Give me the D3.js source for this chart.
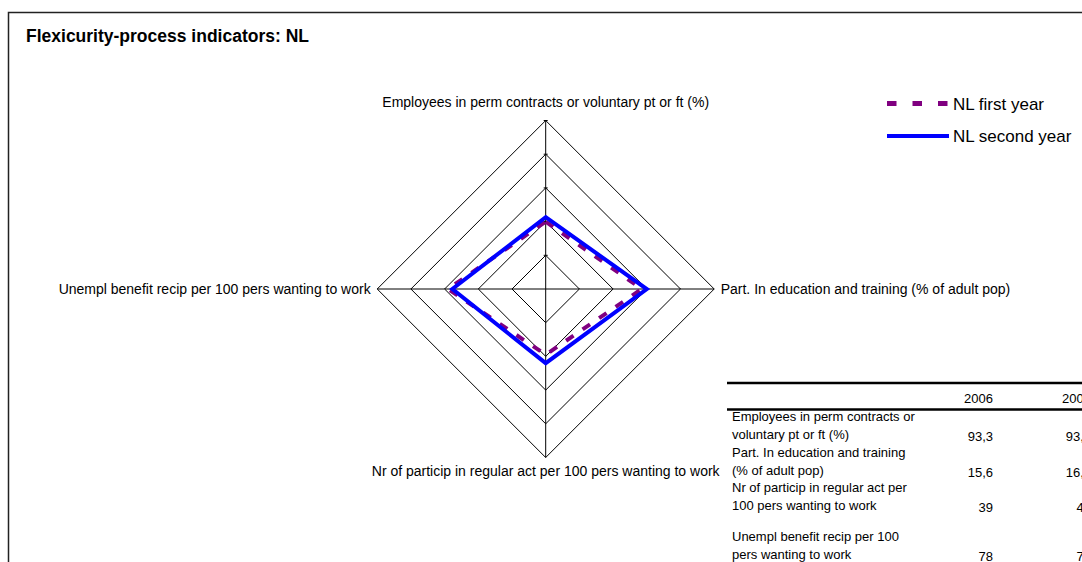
<!DOCTYPE html>
<html>
<head>
<meta charset="utf-8">
<script src="https://cdn.jsdelivr.net/npm/d3@7"></script>
<style>
  body { margin: 0; background: #fff; }
  svg { display: block; font-family: Arial, "Liberation Sans", sans-serif; }
</style>
</head>
<body>
<svg id="graph" width="1082" height="562"></svg>
<script>
// chart data
var axisLabels = [
    "Employees in perm contracts or voluntary pt or ft (%)",
    "Part. In education and training (% of adult pop)",
    "Nr of particip in regular act per 100 pers wanting to work",
    "Unempl benefit recip per 100 pers wanting to work"
];
var seriesNames = ["NL first year", "NL second year"];
var firstYear = [2.0, 2.85, 1.95, 2.9];
var secondYear = [2.13, 3.0, 2.2, 2.77];
var ringTicks = [1, 2, 3, 4, 5];

// table data
var tableYears = ["2006", "2007"];
var rowLabels = [
    ["Employees in perm contracts or", "voluntary pt or ft (%)"],
    ["Part. In education and training", "(% of adult pop)"],
    ["Nr of particip in regular act per", "100 pers wanting to work"],
    ["Unempl benefit recip per 100", "pers wanting to work"]
];
var values2006 = ["93,3", "15,6", "39", "78"];
var values2007 = ["93,5", "16,6", "42", "75"];

var svg = d3.select("#graph");
var width = 1082, height = 562;

// outer chart frame
svg.append("path")
    .attr("d", "M8.5,562 V12.5 H1082")
    .attr("fill", "none")
    .attr("stroke", "#222")
    .attr("stroke-width", 1.5);

svg.append("text")
    .attr("x", 26)
    .attr("y", 42)
    .attr("font-size", 17.5)
    .attr("font-weight", "bold")
    .text("Flexicurity-process indicators: NL");

// radar
var cx = 545.7, cy = 289;
var r = d3.scaleLinear().domain([0, 5]).range([0, 168.5]);
var angle = function(i) { return i * Math.PI / 2; };
var pt = function(v, i) {
    return [cx + r(v) * Math.sin(angle(i)), cy - r(v) * Math.cos(angle(i))];
};

var radar = svg.append("g");

radar.selectAll("path.ring")
    .data(ringTicks)
    .enter()
    .append("path")
    .attr("class", "ring")
    .attr("d", function(t) {
        return d3.line()(axisLabels.map(function(a, i) { return pt(t, i); })) + "Z";
    })
    .attr("fill", "none")
    .attr("stroke", "#000")
    .attr("stroke-width", 1);

radar.selectAll("line.axis")
    .data(axisLabels)
    .enter()
    .append("line")
    .attr("class", "axis")
    .attr("x1", cx).attr("y1", cy)
    .attr("x2", function(d, i) { return pt(5, i)[0]; })
    .attr("y2", function(d, i) { return pt(5, i)[1]; })
    .attr("stroke", "#000")
    .attr("stroke-width", 1);

// small tick marks on the value axis
radar.selectAll("line.tick")
    .data(ringTicks)
    .enter()
    .append("line")
    .attr("class", "tick")
    .attr("x1", cx - 2).attr("x2", cx + 2)
    .attr("y1", function(t) { return cy - r(t); })
    .attr("y2", function(t) { return cy - r(t); })
    .attr("stroke", "#000");

var labelPos = [
    {dx: 0, dy: -182, anchor: "middle"},
    {dx: 175, dy: 5, anchor: "start"},
    {dx: 0, dy: 187, anchor: "middle"},
    {dx: -175, dy: 5, anchor: "end"}
];
radar.selectAll("text.axlab")
    .data(axisLabels)
    .enter()
    .append("text")
    .attr("class", "axlab")
    .attr("x", function(d, i) { return cx + labelPos[i].dx; })
    .attr("y", function(d, i) { return cy + labelPos[i].dy; })
    .attr("text-anchor", function(d, i) { return labelPos[i].anchor; })
    .attr("font-size", 14)
    .text(function(d) { return d; });

var polygon = function(vals) {
    return d3.line()(vals.map(function(v, i) { return pt(v, i); })) + "Z";
};

radar.append("path")
    .attr("d", polygon(firstYear))
    .attr("fill", "none")
    .attr("stroke", "#800080")
    .attr("stroke-width", 4)
    .attr("stroke-dasharray", "9,11");

radar.append("path")
    .attr("d", polygon(secondYear))
    .attr("fill", "none")
    .attr("stroke", "#0000ff")
    .attr("stroke-width", 4)
    .attr("stroke-linejoin", "miter");

// legend
var legend = svg.append("g");
var legendStyles = [
    {color: "#800080", dash: "9.5,16", w: 5},
    {color: "#0000ff", dash: null, w: 4}
];
seriesNames.forEach(function(name, i) {
    var y = 103.5 + i * 32.5;
    legend.append("line")
        .attr("x1", 887).attr("x2", 949)
        .attr("y1", y).attr("y2", y)
        .attr("stroke", legendStyles[i].color)
        .attr("stroke-width", legendStyles[i].w)
        .attr("stroke-dasharray", legendStyles[i].dash);
    legend.append("text")
        .attr("x", 953)
        .attr("y", y + 6)
        .attr("font-size", 17)
        .text(name);
});

// data table
var table = svg.append("g").attr("font-size", 13);
[383, 409.5].forEach(function(y) {
    table.append("line")
        .attr("x1", 727).attr("x2", width)
        .attr("y1", y).attr("y2", y)
        .attr("stroke", "#000")
        .attr("stroke-width", 2.5);
});
var colRight = [993, 1091];
tableYears.forEach(function(yr, j) {
    table.append("text")
        .attr("x", colRight[j]).attr("y", 403)
        .attr("text-anchor", "end")
        .text(yr);
});
var rowTop = [421, 457, 492, 541];
rowLabels.forEach(function(lines, i) {
    lines.forEach(function(line, k) {
        table.append("text")
            .attr("x", 732)
            .attr("y", rowTop[i] + k * 18)
            .text(line);
    });
    [values2006, values2007].forEach(function(vals, j) {
        table.append("text")
            .attr("x", colRight[j])
            .attr("y", rowTop[i] + 20)
            .attr("text-anchor", "end")
            .text(vals[i]);
    });
});
</script>
</body>
</html>
